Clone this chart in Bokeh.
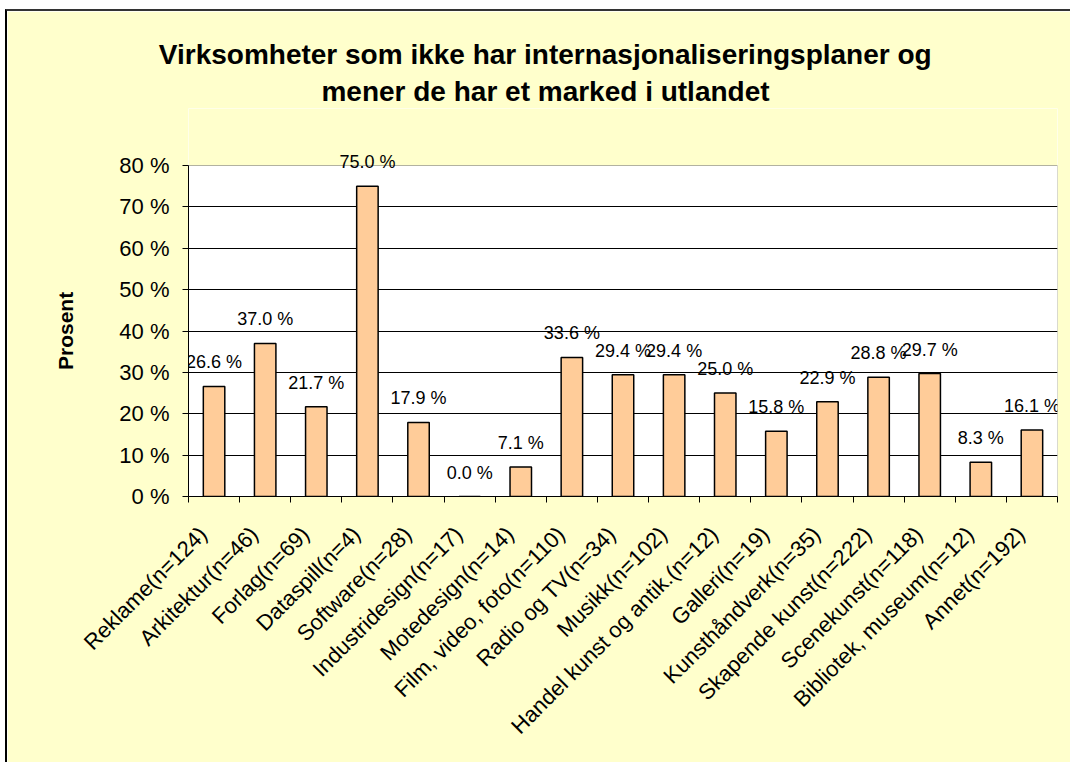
from bokeh.plotting import figure
from bokeh.models import (ColumnDataSource, FixedTicker, LabelSet, Range1d,
                          BoxAnnotation, CustomJSTickFormatter, Title)
from bokeh.core.properties import value
from bokeh.embed import file_html
from bokeh.resources import INLINE

categories = ["Reklame(n=124)", "Arkitektur(n=46)", "Forlag(n=69)", "Dataspill(n=4)",
              "Software(n=28)", "Industridesign(n=17)", "Motedesign(n=14)",
              "Film, video, foto(n=110)", "Radio og TV(n=34)", "Musikk(n=102)",
              "Handel kunst og antik.(n=12)", "Galleri(n=19)", "Kunsthåndverk(n=35)",
              "Skapende kunst(n=222)", "Scenekunst(n=118)", "Bibliotek, museum(n=12)",
              "Annet(n=192)"]
values = [26.6, 37.0, 21.7, 75.0, 17.9, 0.0, 7.1, 33.6, 29.4, 29.4, 25.0, 15.8,
          22.9, 28.8, 29.7, 8.3, 16.1]
y_ticks = [0, 10, 20, 30, 40, 50, 60, 70, 80]
title_lines = ["Virksomheter som ikke har internasjonaliseringsplaner og",
               "mener de har et marked i utlandet"]
y_title = "Prosent"

FONT = "Liberation Sans"
BG = "#FFFFCC"
# layout in page pixels
PAGE_W, PAGE_H = 1072, 764
ORIGIN_X, ORIGIN_Y = 7, 11
FRAME_L, FRAME_R = 188, 1057
FRAME_TOP = 108                      # frame extends above the 80 % line (background there)
Y80_PX, Y0_PX = 165, 496
FIG_W, FIG_H = PAGE_W - ORIGIN_X, PAGE_H - ORIGIN_Y
Y_MAX = 80
y_end = Y_MAX * (Y0_PX - FRAME_TOP) / (Y0_PX - Y80_PX)

n = len(categories)
xs = list(range(n))
source = ColumnDataSource(dict(x=xs, top=values, label=[f"{v:.1f} %" for v in values]))

p = figure(width=FIG_W, height=FIG_H, output_backend="svg", toolbar_location=None,
           x_range=Range1d(-0.5, n - 0.5), y_range=Range1d(0, y_end),
           min_border_left=FRAME_L - ORIGIN_X, min_border_right=PAGE_W - FRAME_R,
           min_border_top=FRAME_TOP - ORIGIN_Y, min_border_bottom=PAGE_H - Y0_PX)
p.styles = {"margin-left": "5px", "margin-top": "9px",
            "border-left": "2px solid #000000", "border-top": "2px solid #333333"}
p.background_fill_color = "white"
p.border_fill_color = BG
p.outline_line_color = None

p.add_layout(BoxAnnotation(bottom=Y_MAX, fill_color=BG, fill_alpha=1, line_color=None,
                           level="underlay"))
p.add_layout(BoxAnnotation(bottom=0, top=Y_MAX, left=-0.5, right=n - 0.5, fill_color=None,
                           line_color="black", line_width=1, level="underlay"))

p.vbar(x="x", top="top", width=0.42, source=source, fill_color="#FFCC99",
       line_color="black", line_width=1.5)

labels = LabelSet(x="x", y="top", text="label", source=source, y_offset=24,
                  text_align="center", text_baseline="middle",
                  text_font=value(FONT), text_font_size=value("18px"), text_color="black")
p.add_layout(labels)

p.xgrid.visible = False
p.ygrid.grid_line_color = "black"
p.ygrid.grid_line_width = 1
p.ygrid.ticker = FixedTicker(ticks=y_ticks[:-1])

ya = p.yaxis[0]
ya.ticker = FixedTicker(ticks=y_ticks)
ya.bounds = (0, Y_MAX)
ya.major_label_overrides = {t: f"{t} %" for t in y_ticks}
ya.major_tick_out = 6
ya.major_tick_in = 0
ya.minor_tick_out = 0
ya.minor_tick_in = 0
ya.major_label_standoff = 13
ya.major_label_text_font = FONT
ya.major_label_text_font_size = "22px"
ya.major_label_text_color = "black"
ya.axis_line_color = "black"

# vertical y title, centred on the 0-80 span
p.add_layout(Title(text=y_title, align="left", offset=(Y0_PX - (Y80_PX + Y0_PX) / 2) - 39,
                   standoff=80, text_font=FONT, text_font_size="21px",
                   text_font_style="bold", text_color="black"), "left")

LABEL_SHIFT = 0.215
xa = p.xaxis[0]
xa.ticker = FixedTicker(ticks=[i - LABEL_SHIFT for i in xs],
                        minor_ticks=[i - 0.5 for i in range(n + 1)])
xa.formatter = CustomJSTickFormatter(args=dict(labels=categories),
                                     code="const i = Math.round(tick); return labels[i] || '';")
xa.major_tick_out = 0
xa.major_tick_in = 0
xa.minor_tick_out = 6
xa.minor_tick_in = 0
xa.major_label_orientation = 0.785398
xa.major_label_standoff = 28
xa.major_label_text_font = FONT
xa.major_label_text_font_size = "22px"
xa.major_label_text_color = "black"
xa.axis_line_color = "black"

# two-line chart title, centred at x=545 (left-aligned with computed offsets)
TITLE_FS = 28
TITLE_CX = 545
line_em = [27.621, 16.005]          # text widths in em (Arial/Liberation Bold metrics)
standoffs = [4, 4]                  # line nearest the frame first
for line, em, so in zip(reversed(title_lines), reversed(line_em), standoffs):
    start = TITLE_CX - em * TITLE_FS / 2
    p.add_layout(Title(text=line, align="left", offset=start - FRAME_L, standoff=so,
                       text_font=FONT, text_font_size=f"{TITLE_FS}px",
                       text_font_style="bold", text_color="black"), "above")

open("out.html", "w").write(file_html(p, INLINE))
